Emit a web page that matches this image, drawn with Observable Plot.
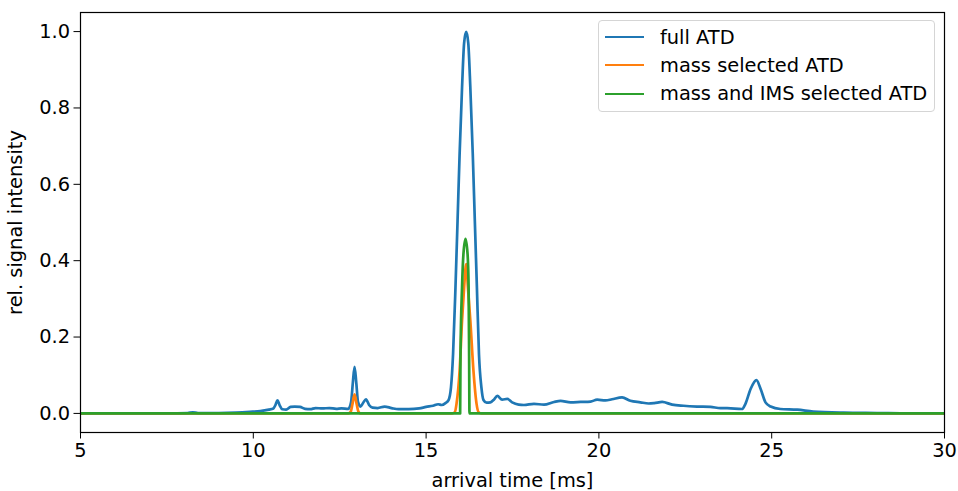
<!DOCTYPE html>
<html>
<head>
<meta charset="utf-8">
<script src="https://cdn.jsdelivr.net/npm/d3@7"></script>
<script src="https://cdn.jsdelivr.net/npm/@observablehq/plot@0.6"></script>
<style>
  html, body { margin: 0; padding: 0; background: white; }
  #wrap { position: relative; width: 958px; height: 491px; font-family: "DejaVu Sans", sans-serif; }
  #legend { position: absolute; left: 598px; top: 20px; width: 337px; height: 92px; box-sizing: border-box;
            border: 1px solid #d5d5d5; border-radius: 4px; background: rgba(255,255,255,0.8); }
  .row { position: absolute; left: 0; height: 28px; display: flex; align-items: center; font-size: 19.4px; color: #000; white-space: nowrap; }
  .sw { width: 39px; height: 0; border-top: 2.7px solid; margin-left: 6px; margin-right: 16px; }
</style>
</head>
<body>
<div id="wrap"><div id="legend"></div></div>
<script>
const seriesNames = ["full ATD", "mass selected ATD", "mass and IMS selected ATD"];
const seriesColors = ["#1f77b4", "#ff7f0e", "#2ca02c"];
const xTicks = [5, 10, 15, 20, 25, 30];
const yTicks = [0.0, 0.2, 0.4, 0.6, 0.8, 1.0];

// full ATD [time ms, rel. intensity]
const fullATD = [
  [5.0,0.000],[7.5,0.000],[8.1,0.001],[8.25,0.003],[8.4,0.001],[9.0,0.001],[9.5,0.002],[9.9,0.004],
  [10.2,0.006],[10.45,0.010],[10.58,0.013],[10.64,0.022],[10.70,0.034],[10.76,0.022],[10.84,0.011],
  [10.95,0.010],[11.08,0.017],[11.2,0.018],[11.35,0.017],[11.5,0.012],[11.65,0.011],[11.8,0.014],
  [12.0,0.013],[12.2,0.014],[12.4,0.012],[12.55,0.013],[12.75,0.012],[12.83,0.030],[12.88,0.080],
  [12.93,0.122],[12.98,0.080],[13.03,0.030],[13.1,0.018],[13.18,0.028],[13.26,0.037],[13.35,0.022],
  [13.45,0.015],[13.6,0.014],[13.8,0.018],[14.0,0.014],[14.2,0.011],[14.5,0.011],[14.8,0.013],
  [15.0,0.017],[15.2,0.020],[15.35,0.024],[15.45,0.022],[15.56,0.027],[15.65,0.035],[15.72,0.068],
  [15.78,0.155],[15.85,0.330],[15.91,0.504],[15.97,0.680],[16.04,0.853],[16.10,0.970],[16.16,0.999],
  [16.22,0.970],[16.28,0.853],[16.35,0.680],[16.41,0.504],[16.47,0.330],[16.53,0.155],[16.60,0.068],
  [16.66,0.035],[16.75,0.028],[16.86,0.029],[16.96,0.036],[17.06,0.046],[17.2,0.036],[17.35,0.038],
  [17.49,0.029],[17.68,0.023],[17.83,0.022],[18.12,0.025],[18.41,0.023],[18.7,0.030],[18.89,0.033],
  [19.18,0.029],[19.47,0.030],[19.76,0.031],[19.95,0.036],[20.19,0.034],[20.38,0.037],[20.67,0.042],
  [20.91,0.033],[21.2,0.029],[21.44,0.026],[21.6,0.027],[21.83,0.030],[22.12,0.023],[22.45,0.020],
  [22.84,0.018],[23.23,0.017],[23.52,0.014],[23.71,0.014],[24.14,0.0115],[24.24,0.025],[24.39,0.064],
  [24.56,0.087],[24.68,0.064],[24.82,0.029],[24.97,0.018],[25.25,0.0115],[25.74,0.0097],[26.2,0.005],
  [27.08,0.002],[28.05,0.001],[29.0,0.000],[30.0,0.000]
];
// mass selected ATD
const massATD = [
  [5.0,0],[12.75,0],[12.82,0.005],[12.87,0.025],[12.93,0.050],[12.99,0.025],[13.04,0.005],[13.1,0],
  [15.75,0],[15.83,0.003],[15.88,0.025],[15.97,0.112],[16.04,0.243],[16.10,0.330],[16.16,0.391],
  [16.21,0.330],[16.28,0.243],[16.37,0.112],[16.46,0.025],[16.52,0.003],[16.6,0],[30.0,0]
];
// mass and IMS selected ATD
const imsATD = [
  [5.0,0],[15.985,0],[15.995,0.150],[16.04,0.330],[16.08,0.417],[16.14,0.457],[16.20,0.417],
  [16.23,0.330],[16.245,0.150],[16.255,0],[30.0,0]
];

const seriesData = [fullATD, massATD, imsATD];

const chart = Plot.plot({
  width: 958,
  height: 491,
  marginLeft: 80,
  marginRight: 14,
  marginTop: 12,
  marginBottom: 59,
  style: {fontFamily: "DejaVu Sans, sans-serif", fontSize: "19.4px", color: "black", background: "transparent", overflow: "visible"},
  x: {domain: [5, 30], ticks: xTicks, tickFormat: d => String(d), tickSize: 6.5, tickPadding: 4,
      label: "arrival time [ms]", labelAnchor: "center", labelOffset: 54, labelArrow: "none"},
  y: {domain: [-0.05, 1.05], ticks: yTicks, tickFormat: d3.format(".1f"), tickSize: 6.5, tickPadding: 4,
      label: "rel. signal intensity", labelAnchor: "center", labelOffset: 72, labelArrow: "none"},
  marks: [
    ...seriesData.map((d, i) => Plot.line(d, {x: p => p[0], y: p => p[1], stroke: seriesColors[i],
        strokeWidth: 2.7, curve: "monotone-x", clip: true})),
    Plot.frame({stroke: "black", strokeWidth: 1.2})
  ]
});
const wrap = document.getElementById("wrap");
wrap.insertBefore(chart, wrap.firstChild);

const legend = document.getElementById("legend");
seriesNames.forEach((name, i) => {
  const row = document.createElement("div");
  row.className = "row";
  row.style.top = (2 + i * 28.4) + "px";
  const sw = document.createElement("div");
  sw.className = "sw";
  sw.style.borderTopColor = seriesColors[i];
  const tx = document.createElement("span");
  tx.textContent = name;
  row.appendChild(sw); row.appendChild(tx);
  legend.appendChild(row);
});
</script>
</body>
</html>
